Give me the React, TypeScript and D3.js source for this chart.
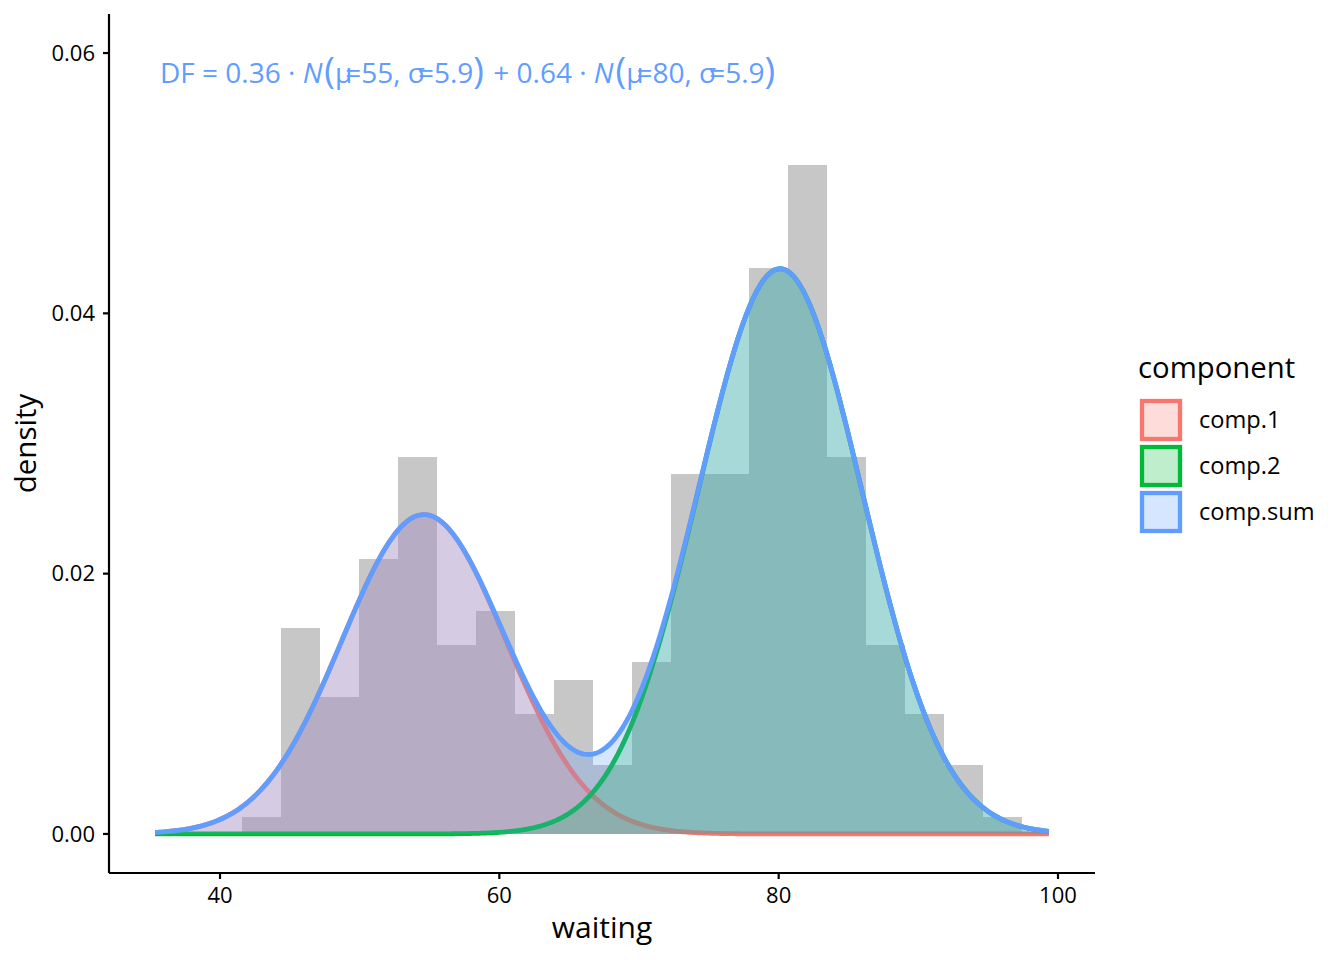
import React from "react";
import * as d3 from "d3";

// ---- data ----
const binCenterStart = 43;
const binWidth = 53 / 19;
const binCounts = [1, 12, 8, 16, 22, 11, 13, 7, 9, 4, 10, 21, 21, 33, 39, 22, 11, 7, 4, 1];
const nObs = 272;

const componentNames = ["comp.1", "comp.2", "comp.sum"];
const componentColors = ["#F8766D", "#00BA38", "#619CFF"];
const mixWeights = [0.361, 0.639];
const mixMeans = [54.6, 80.1];
const mixSigmas = [5.87, 5.87];
const curveRange = [35.35, 99.35];

const xTicks = [40, 60, 80, 100];
const yTicks = [0, 0.02, 0.04, 0.06];

const W = 1344;
const H = 960;
const FONT = "'Open Sans', 'Noto Sans', sans-serif";

function dnorm(x: number, m: number, s: number) {
  return Math.exp(-0.5 * ((x - m) / s) ** 2) / (s * Math.sqrt(2 * Math.PI));
}

export default function App() {
  const x = d3.scaleLinear().domain([32.05, 102.65]).range([109, 1095]);
  const y = d3.scaleLinear().domain([-0.003, 0.063]).range([873, 14]);

  const bins = binCounts.map((c, i) => {
    const center = binCenterStart + i * binWidth;
    return { x0: center - binWidth / 2, x1: center + binWidth / 2, d: c / (nObs * binWidth) };
  });

  const grid = d3.range(0, 401).map((i) => curveRange[0] + (i / 400) * (curveRange[1] - curveRange[0]));
  const c1 = grid.map((g) => ({ x: g, y: mixWeights[0] * dnorm(g, mixMeans[0], mixSigmas[0]) }));
  const c2 = grid.map((g) => ({ x: g, y: mixWeights[1] * dnorm(g, mixMeans[1], mixSigmas[1]) }));
  const cs = grid.map((g, i) => ({ x: g, y: c1[i].y + c2[i].y }));
  const series = [c1, c2, cs];

  const area = d3
    .area<{ x: number; y: number }>()
    .x((d) => x(d.x))
    .y0(y(0))
    .y1((d) => y(d.y));
  const line = d3
    .line<{ x: number; y: number }>()
    .x((d) => x(d.x))
    .y((d) => y(d.y));

  const annColor = "#619CFF";
  const parenSize = 36;

  return (
    <svg width={W} height={H} style={{ position: "absolute", left: 0, top: 0 }} fontFamily={FONT}>
      <rect width={W} height={H} fill="white" />
      <defs>
        <clipPath id="panel">
          <rect x={109} y={14} width={986} height={859} />
        </clipPath>
      </defs>
      <g clipPath="url(#panel)">
        <g shapeRendering="crispEdges">
          {bins.map((b, i) => (
            <rect
              key={i}
              x={x(b.x0)}
              width={x(b.x1) - x(b.x0)}
              y={y(b.d)}
              height={y(0) - y(b.d)}
              fill="#C7C7C7"
            />
          ))}
        </g>
        {series.map((s, i) => (
          <g key={i}>
            <path d={area(s) || ""} fill={componentColors[i]} fillOpacity={0.25} />
            <path d={line(s) || ""} fill="none" stroke={componentColors[i]} strokeWidth={4.8} />
          </g>
        ))}
      </g>

      {/* annotation */}
      <text x={160} y={83} fontSize={28} fill={annColor}>
        <tspan>DF = 0.36 · </tspan>
        <tspan fontStyle="italic">N</tspan>
        <tspan fontSize={parenSize} dx={2}>(</tspan>
        <tspan>μ</tspan>
        <tspan dx={-7}>=55, </tspan>
        <tspan>σ</tspan>
        <tspan dx={-7}>=5.9</tspan>
        <tspan fontSize={parenSize}>)</tspan>
        <tspan dx={2}> + 0.64 · </tspan>
        <tspan fontStyle="italic">N</tspan>
        <tspan fontSize={parenSize} dx={2}>(</tspan>
        <tspan>μ</tspan>
        <tspan dx={-7}>=80, </tspan>
        <tspan>σ</tspan>
        <tspan dx={-7}>=5.9</tspan>
        <tspan fontSize={parenSize}>)</tspan>
      </text>

      {/* axes */}
      <line x1={109} x2={1095} y1={873} y2={873} stroke="black" strokeWidth={2.2} />
      <line x1={109} x2={109} y1={14} y2={873} stroke="black" strokeWidth={2.2} />
      {xTicks.map((t) => (
        <g key={t}>
          <line x1={x(t)} x2={x(t)} y1={873} y2={879} stroke="black" strokeWidth={2.2} />
          <text x={x(t)} y={903} fontSize={22} textAnchor="middle" fill="black">
            {t}
          </text>
        </g>
      ))}
      {yTicks.map((t) => (
        <g key={t}>
          <line x1={103} x2={109} y1={y(t)} y2={y(t)} stroke="black" strokeWidth={2.2} />
          <text x={95} y={y(t) + 7.8} fontSize={22} textAnchor="end" fill="black">
            {t.toFixed(2)}
          </text>
        </g>
      ))}
      <text x={602} y={938} fontSize={30} textAnchor="middle" fill="black">
        waiting
      </text>
      <text transform={`translate(36,443.5) rotate(-90)`} fontSize={29.5} textAnchor="middle" fill="black">
        density
      </text>

      {/* legend */}
      <text x={1138} y={378} fontSize={29.3} fill="black">
        component
      </text>
      {componentNames.map((n, i) => {
        const cy = 420 + i * 46;
        return (
          <g key={n}>
            <rect
              x={1142}
              y={cy - 19}
              width={38}
              height={38}
              fill={componentColors[i]}
              fillOpacity={0.25}
              stroke={componentColors[i]}
              strokeWidth={4.3}
            />
            <text x={1199} y={cy + 8} fontSize={23.6} fill="black">
              {n}
            </text>
          </g>
        );
      })}
    </svg>
  );
}
